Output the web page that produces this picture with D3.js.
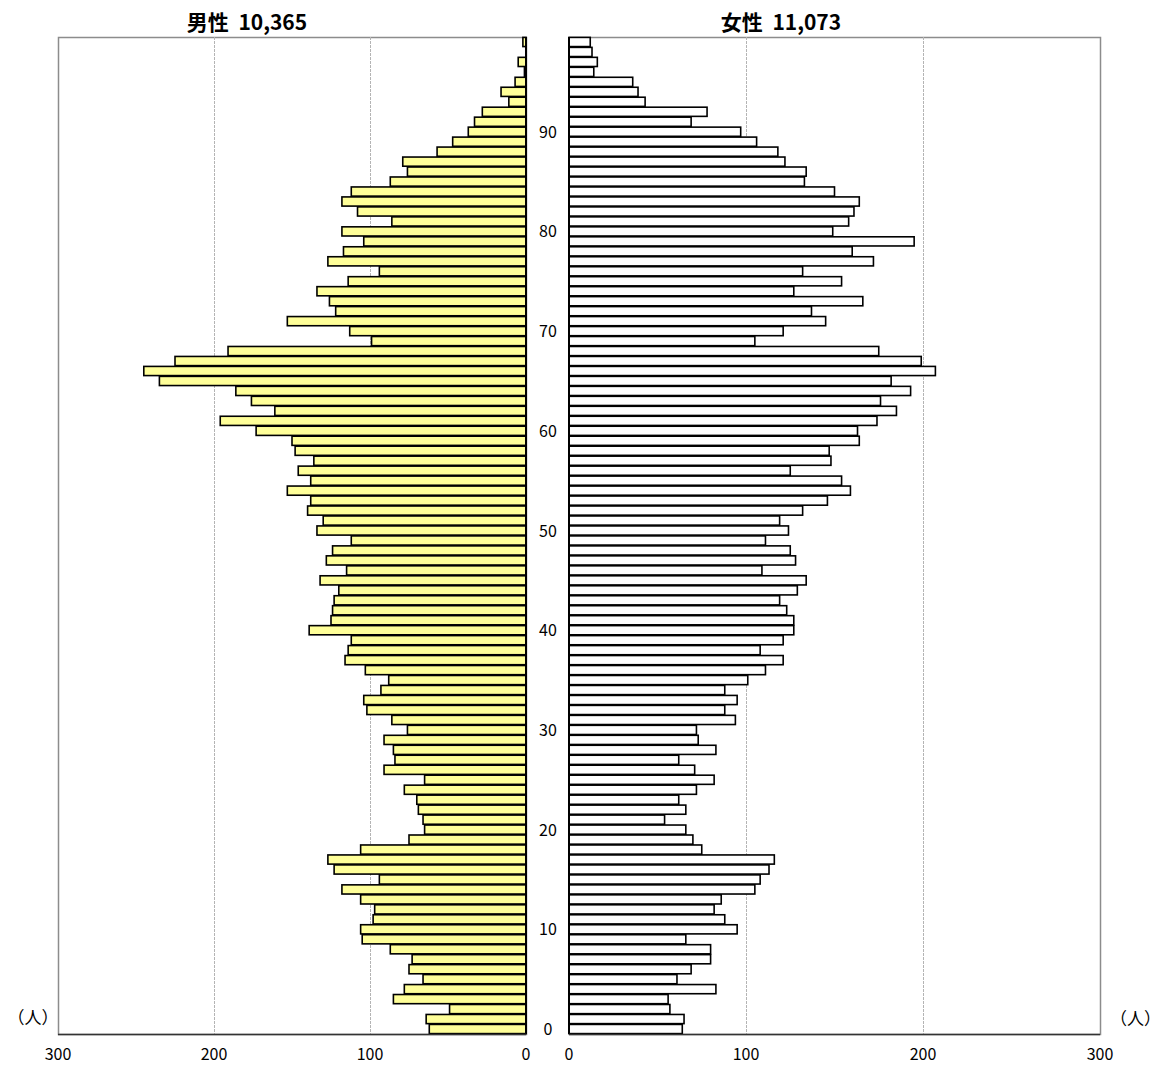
<!DOCTYPE html>
<html>
<head>
<meta charset="utf-8">
<script src="https://cdn.jsdelivr.net/npm/d3@7"></script>
<style>
  body { margin: 0; background: #fff; }
  svg { font-family: "Noto Sans CJK JP", "DejaVu Sans", sans-serif; }
</style>
</head>
<body>
<div id="chart"></div>
<script>
// ages 0..99, values read bottom (age 0) to top (age 99)
const ages = d3.range(0, 100);
const maleValues = [
  62, 64, 49, 85, 78, 66, 75, 73, 87, 105,
  106, 98, 97, 106, 118, 94, 123, 127, 106, 75,
  65, 66, 69, 70, 78, 65, 91, 84, 85, 91,
  76, 86, 102, 104, 93, 88, 103, 116, 114, 112,
  139, 125, 124, 123, 120, 132, 115, 128, 124, 112,
  134, 130, 140, 138, 153, 138, 146, 136, 148, 150,
  173, 196, 161, 176, 186, 235, 245, 225, 191, 99,
  113, 153, 122, 126, 134, 114, 94, 127, 117, 104,
  118, 86, 108, 118, 112, 87, 76, 79, 57, 47,
  37, 33, 28, 11, 16, 7, 1, 5, 0, 2
];
const femaleValues = [
  64, 65, 57, 56, 83, 61, 69, 80, 80, 66,
  95, 88, 82, 86, 105, 108, 113, 116, 75, 70,
  66, 54, 66, 62, 72, 82, 71, 62, 83, 73,
  72, 94, 88, 95, 88, 101, 111, 121, 108, 121,
  127, 127, 123, 119, 129, 134, 109, 128, 125, 111,
  124, 119, 132, 146, 159, 154, 125, 148, 147, 164,
  163, 174, 185, 176, 193, 182, 207, 199, 175, 105,
  121, 145, 137, 166, 127, 154, 132, 172, 160, 195,
  149, 158, 161, 164, 150, 133, 134, 122, 118, 106,
  97, 69, 78, 43, 39, 36, 14, 16, 13, 12
];
const ageLabels = [0, 10, 20, 30, 40, 50, 60, 70, 80, 90];
const xTicks = [0, 100, 200, 300];
const maleTitle = '男性  10,365';
const femaleTitle = '女性  11,073';
const unitLabel = '（人）';

const width = 1163, height = 1066;
const plotTop = 37, plotBottom = 1034;

const svg = d3.select('#chart')
  .append('svg')
  .attr('width', width)
  .attr('height', height);

const y = d3.scaleBand()
  .domain(ages.slice().reverse())
  .range([plotTop, plotBottom])
  .paddingInner(0.08)
  .paddingOuter(0.04);

const xMale = d3.scaleLinear().domain([0, 300]).range([526, 58]);
const xFemale = d3.scaleLinear().domain([0, 300]).range([569, 1100]);

function drawPanel(x, values, fill, title, titleX) {
  const g = svg.append('g');
  const [x0, x1] = [Math.min(...x.range()), Math.max(...x.range())];

  // frame
  g.append('rect')
    .attr('x', x0 + 0.5)
    .attr('y', plotTop + 0.5)
    .attr('width', x1 - x0)
    .attr('height', plotBottom - plotTop)
    .attr('fill', 'none')
    .attr('stroke', '#8c8c8c')
    .attr('stroke-width', 1.5);

  // grid
  g.append('g')
    .selectAll('line')
    .data([100, 200])
    .join('line')
    .attr('x1', d => Math.round(x(d)) + 0.5)
    .attr('x2', d => Math.round(x(d)) + 0.5)
    .attr('y1', plotTop)
    .attr('y2', plotBottom)
    .attr('stroke', '#b4b4b4')
    .attr('stroke-dasharray', '3,1')
    .attr('stroke-width', 1);

  // bars
  g.append('g')
    .selectAll('rect')
    .data(ages)
    .join('rect')
    .attr('x', d => Math.min(x(0), x(values[d])))
    .attr('y', d => y(d))
    .attr('width', d => Math.abs(x(values[d]) - x(0)))
    .attr('height', y.bandwidth())
    .attr('fill', fill)
    .attr('stroke', '#000')
    .attr('stroke-width', 1.6);

  // zero line and bottom axis
  g.append('line')
    .attr('x1', x(0)).attr('x2', x(0))
    .attr('y1', plotTop).attr('y2', plotBottom)
    .attr('stroke', '#000').attr('stroke-width', 2);
  g.append('line')
    .attr('x1', x0).attr('x2', x1)
    .attr('y1', plotBottom + 0.5).attr('y2', plotBottom + 0.5)
    .attr('stroke', '#333').attr('stroke-width', 1.5);

  // tick labels
  g.append('g')
    .selectAll('text')
    .data(xTicks)
    .join('text')
    .attr('x', d => x(d))
    .attr('y', 1060)
    .attr('text-anchor', 'middle')
    .attr('font-size', 16)
    .text(d => d);

  svg.append('text')
    .attr('x', titleX)
    .attr('y', 30)
    .attr('text-anchor', 'middle')
    .attr('font-size', 21)
    .attr('font-weight', 'bold')
    .style('white-space', 'pre')
    .text(title);
}

drawPanel(xMale, maleValues, '#ffff99', maleTitle, 247);
drawPanel(xFemale, femaleValues, '#ffffff', femaleTitle, 781);

// age labels between panels
svg.append('g')
  .selectAll('text')
  .data(ageLabels)
  .join('text')
  .attr('x', 548)
  .attr('y', d => y(d) + y.bandwidth() / 2 + 6)
  .attr('text-anchor', 'middle')
  .attr('font-size', 16)
  .text(d => d);

// unit labels
svg.append('text')
  .attr('x', 33).attr('y', 1024)
  .attr('text-anchor', 'middle')
  .attr('font-size', 17)
  .text(unitLabel);
svg.append('text')
  .attr('x', 1161).attr('y', 1025)
  .attr('text-anchor', 'end')
  .attr('font-size', 17)
  .text(unitLabel);
</script>
</body>
</html>
